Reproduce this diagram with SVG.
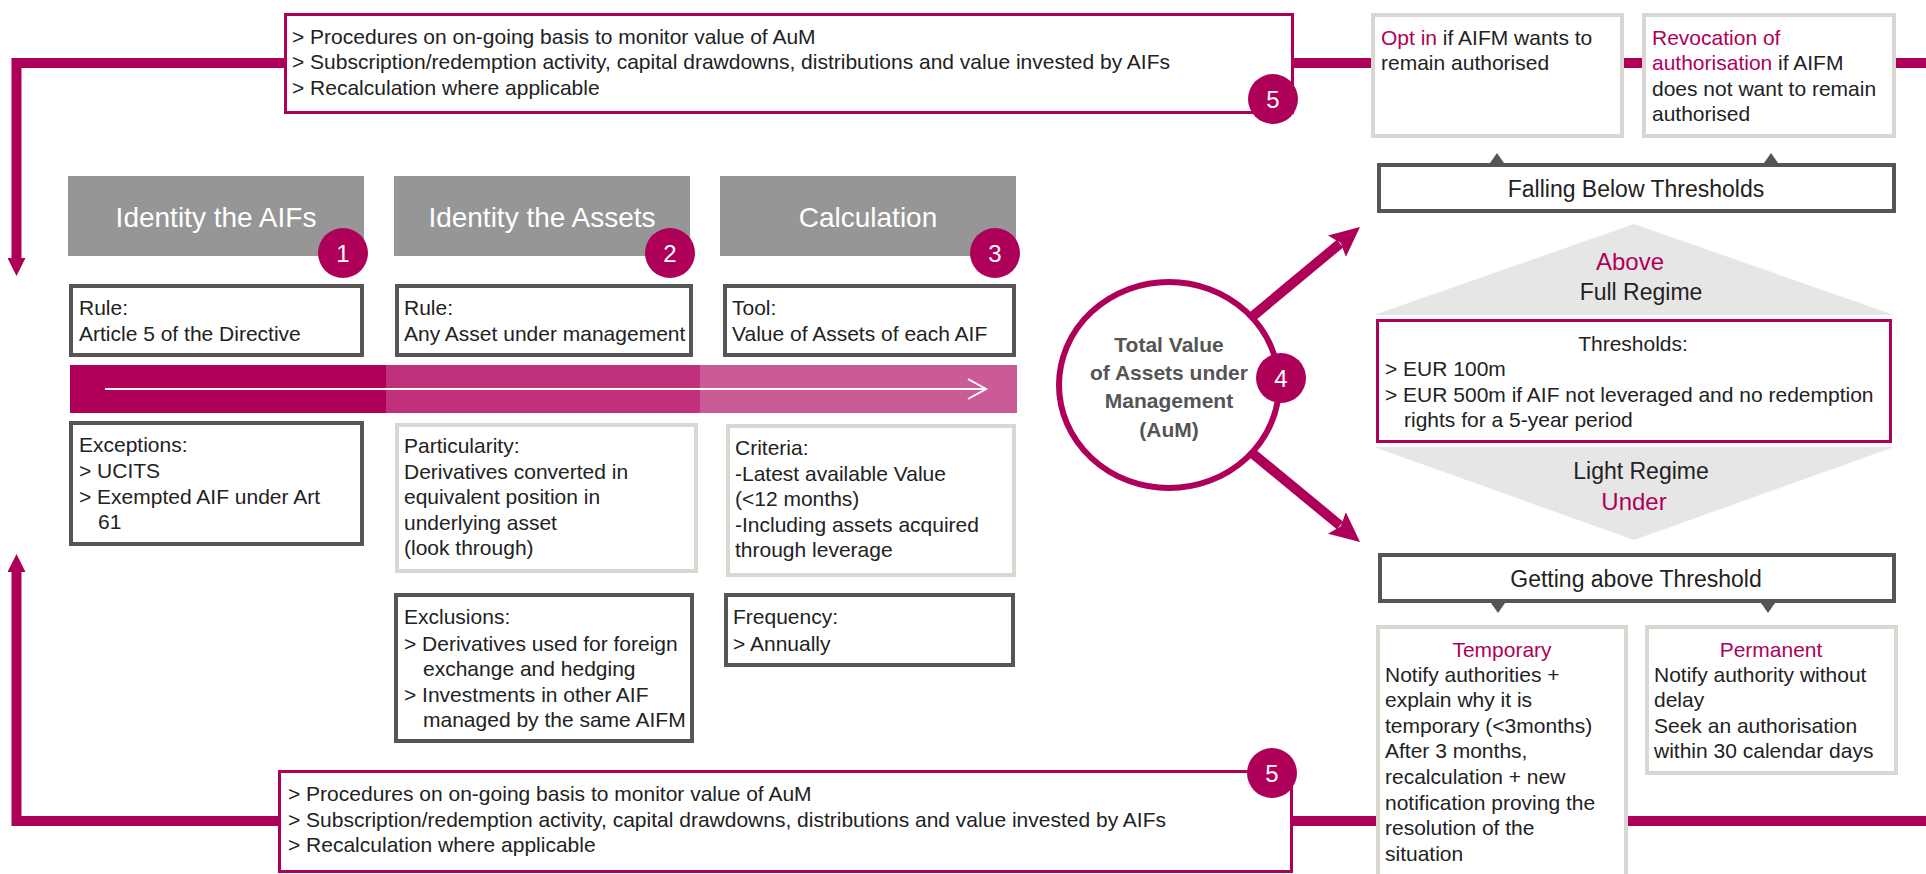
<svg xmlns="http://www.w3.org/2000/svg" width="1926" height="874" viewBox="0 0 1926 874">
<style>
text{font-family:"Liberation Sans",Arial,sans-serif;fill:#222;font-size:21px}
.hd{fill:#fff;font-size:28px;text-anchor:middle}
.hdbox{fill:#969696}
.dark{fill:#fff;stroke:#555;stroke-width:4}
.light{fill:#fff;stroke:#dad6d0;stroke-width:4}
.mag{fill:#fff;stroke:#af0059;stroke-width:3}
.badge{fill:#af0059}
.bn{fill:#fff;font-size:24px;text-anchor:middle}
.m{fill:#af0059}
.c{text-anchor:middle}
.big{font-size:23px}
.conn{fill:none;stroke:#af0059;stroke-width:10}
.tri{fill:#555}
.gtri{fill:#e6e6e6}
.aum{font-weight:bold;fill:#555;font-size:21px;text-anchor:middle}
</style>
<defs>
<marker id="ahV" viewBox="0 -9 18 18" refX="0" refY="0" markerWidth="18" markerHeight="18" markerUnits="userSpaceOnUse" orient="auto">
<path d="M0,-9 L18,0 L0,9 z" fill="#af0059"/>
</marker>
<marker id="ahD" viewBox="-4 -14 30 28" refX="0" refY="0" markerWidth="30" markerHeight="28" markerUnits="userSpaceOnUse" orient="auto">
<path d="M-4,-14 L26,0 L-4,14 L1,0 z" fill="#af0059"/>
</marker>
</defs>
<rect width="1926" height="874" fill="#fff"/>

<g id="connectors">
<path class="conn" d="M284,63 H16.5 V258" marker-end="url(#ahV)"/>
<path class="conn" d="M278,821 H16.5 V572" marker-end="url(#ahV)"/>
<path class="conn" d="M1294,63 H1371 M1624,63 H1642 M1896,63 H1926"/>
<path class="conn" d="M1293,821 H1376 M1628,821 H1926"/>
<path class="conn" d="M1200,360 L1340,243.6" marker-end="url(#ahD)"/>
<path class="conn" d="M1200,410 L1340,525.5" marker-end="url(#ahD)"/>
</g>

<g id="bar">
<rect x="70" y="365" width="316" height="48" fill="#b0005a"/>
<rect x="386" y="365" width="314" height="48" fill="#c1317b"/>
<rect x="700" y="365" width="317" height="48" fill="#cb5b97"/>
<path d="M105,389 H985 M968,379 L986,389 L968,399" fill="none" stroke="#fff" stroke-width="2"/>
</g>

<g id="step1">
<rect class="hdbox" x="68" y="176" width="296" height="80"/>
<text class="hd" x="216" y="227">Identity the AIFs</text>
<circle class="badge" cx="343" cy="253" r="25"/>
<text class="bn" x="343" y="262">1</text>
</g>
<g id="step2">
<rect class="hdbox" x="394" y="176" width="296" height="80"/>
<text class="hd" x="542" y="227">Identity the Assets</text>
<circle class="badge" cx="670" cy="253" r="25"/>
<text class="bn" x="670" y="262">2</text>
</g>
<g id="step3">
<rect class="hdbox" x="720" y="176" width="296" height="80"/>
<text class="hd" x="868" y="227">Calculation</text>
<circle class="badge" cx="995" cy="253" r="25"/>
<text class="bn" x="995" y="262">3</text>
</g>

<g id="rule1">
<rect class="dark" x="71" y="286" width="291" height="69"/>
<text x="79" y="315">Rule:</text>
<text x="79" y="341">Article 5 of the Directive</text>
</g>
<g id="rule2">
<rect class="dark" x="397" y="286" width="294" height="69"/>
<text x="404" y="315">Rule:</text>
<text x="404" y="341">Any Asset under management</text>
</g>
<g id="tool">
<rect class="dark" x="725" y="286" width="289" height="69"/>
<text x="732" y="315">Tool:</text>
<text x="732" y="341">Value of Assets of each AIF</text>
</g>

<g id="exceptions">
<rect class="dark" x="71" y="423" width="291" height="121"/>
<text x="79" y="452">Exceptions:</text>
<text x="79" y="478">&gt; UCITS</text>
<text x="79" y="504">&gt; Exempted AIF under Art</text>
<text x="98" y="529">61</text>
</g>
<g id="particularity">
<rect class="light" x="397" y="425" width="299" height="146"/>
<text x="404" y="453">Particularity:</text>
<text x="404" y="479">Derivatives converted in</text>
<text x="404" y="504">equivalent position in</text>
<text x="404" y="530">underlying asset</text>
<text x="404" y="555">(look through)</text>
</g>
<g id="criteria">
<rect class="light" x="728" y="426" width="286" height="149"/>
<text x="735" y="455">Criteria:</text>
<text x="735" y="481">-Latest available Value</text>
<text x="735" y="506">(&lt;12 months)</text>
<text x="735" y="532">-Including assets acquired</text>
<text x="735" y="557">through leverage</text>
</g>
<g id="exclusions">
<rect class="dark" x="396" y="595" width="296" height="146"/>
<text x="404" y="624">Exclusions:</text>
<text x="404" y="651">&gt; Derivatives used for foreign</text>
<text x="423" y="676">exchange and hedging</text>
<text x="404" y="702">&gt; Investments in other AIF</text>
<text x="423" y="727">managed by the same AIFM</text>
</g>
<g id="frequency">
<rect class="dark" x="726" y="595" width="287" height="70"/>
<text x="733" y="624">Frequency:</text>
<text x="733" y="651">&gt; Annually</text>
</g>

<g id="monitor-top">
<rect class="mag" x="285.5" y="14.5" width="1007" height="98"/>
<text x="292" y="44">&gt; Procedures on on-going basis to monitor value of AuM</text>
<text x="292" y="69">&gt; Subscription/redemption activity, capital drawdowns, distributions and value invested by AIFs</text>
<text x="292" y="95">&gt; Recalculation where applicable</text>
<circle class="badge" cx="1273" cy="99" r="25"/>
<text class="bn" x="1273" y="108">5</text>
</g>
<g id="monitor-bottom">
<rect class="mag" x="279.5" y="771.5" width="1012" height="100"/>
<text x="288" y="801">&gt; Procedures on on-going basis to monitor value of AuM</text>
<text x="288" y="827">&gt; Subscription/redemption activity, capital drawdowns, distributions and value invested by AIFs</text>
<text x="288" y="852">&gt; Recalculation where applicable</text>
<circle class="badge" cx="1272" cy="773" r="25"/>
<text class="bn" x="1272" y="782">5</text>
</g>

<g id="aum">
<ellipse cx="1169" cy="385" rx="110" ry="103" fill="#fff" stroke="#af0059" stroke-width="6"/>
<text class="aum" x="1169" y="352">Total Value</text>
<text class="aum" x="1169" y="380">of Assets under</text>
<text class="aum" x="1169" y="408">Management</text>
<text class="aum" x="1169" y="437">(AuM)</text>
<circle class="badge" cx="1281" cy="378" r="25"/>
<text class="bn" x="1281" y="387">4</text>
</g>

<g id="optin">
<rect class="light" x="1373" y="15" width="249" height="121"/>
<text x="1381" y="45"><tspan class="m">Opt in</tspan> if AIFM wants to</text>
<text x="1381" y="70">remain authorised</text>
</g>
<g id="revocation">
<rect class="light" x="1644" y="15" width="250" height="121"/>
<text x="1652" y="45" class="m">Revocation of</text>
<text x="1652" y="70"><tspan class="m">authorisation</tspan> if AIFM</text>
<text x="1652" y="96">does not want to remain</text>
<text x="1652" y="121">authorised</text>
</g>
<g id="falling">
<polygon class="tri" points="1490,163 1497,153 1504,163"/>
<polygon class="tri" points="1764,163 1771,153 1778,163"/>
<rect class="dark" x="1379" y="165" width="515" height="46"/>
<text class="c big" x="1636" y="197">Falling Below Thresholds</text>
</g>
<g id="above">
<polygon class="gtri" points="1374,315 1634,224 1894,315"/>
<text class="c m" x="1630" y="270" style="font-size:24px">Above</text>
<text class="c big" x="1641" y="300">Full Regime</text>
</g>
<g id="thresholds">
<rect class="mag" x="1377.5" y="320.5" width="513" height="121"/>
<text class="c" x="1633" y="351">Thresholds:</text>
<text x="1385" y="376">&gt; EUR 100m</text>
<text x="1385" y="402">&gt; EUR 500m if AIF not leveraged and no redemption</text>
<text x="1404" y="427">rights for a 5-year period</text>
</g>
<g id="under">
<polygon class="gtri" points="1374,447 1894,447 1634,540"/>
<text class="c big" x="1641" y="479">Light Regime</text>
<text class="c m" x="1634" y="510" style="font-size:24px">Under</text>
</g>
<g id="getting">
<rect class="dark" x="1380" y="555" width="514" height="46"/>
<text class="c big" x="1636" y="587">Getting above Threshold</text>
<polygon class="tri" points="1491,603 1505,603 1498,613"/>
<polygon class="tri" points="1761,603 1775,603 1768,613"/>
</g>
<g id="temporary">
<rect class="light" x="1378" y="627" width="248" height="280"/>
<text class="c m" x="1502" y="657">Temporary</text>
<text x="1385" y="682">Notify authorities +</text>
<text x="1385" y="707">explain why it is</text>
<text x="1385" y="733">temporary (&lt;3months)</text>
<text x="1385" y="758">After 3 months,</text>
<text x="1385" y="784">recalculation + new</text>
<text x="1385" y="810">notification proving the</text>
<text x="1385" y="835">resolution of the</text>
<text x="1385" y="861">situation</text>
</g>
<g id="permanent">
<rect class="light" x="1647" y="627" width="249" height="146"/>
<text class="c m" x="1771" y="657">Permanent</text>
<text x="1654" y="682">Notify authority without</text>
<text x="1654" y="707">delay</text>
<text x="1654" y="733">Seek an authorisation</text>
<text x="1654" y="758">within 30 calendar days</text>
</g>
</svg>
